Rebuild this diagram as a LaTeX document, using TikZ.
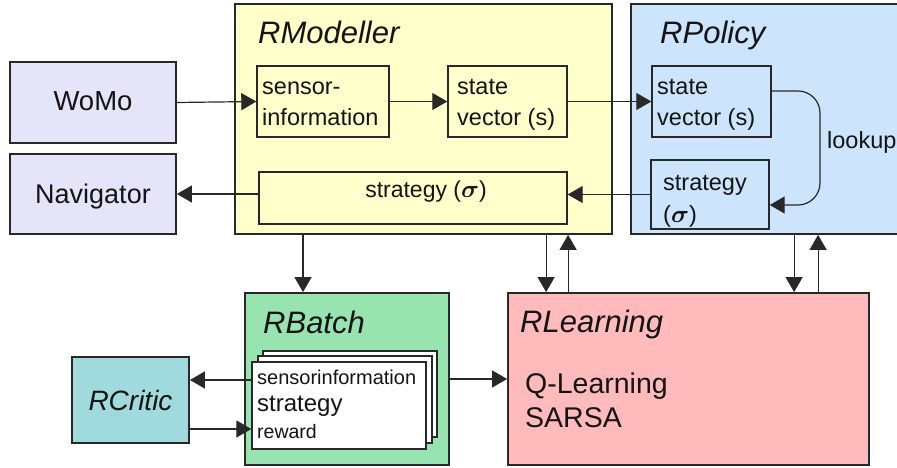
\documentclass[tikz,border=0pt]{standalone}
\usepackage{fontspec}
\setmainfont{Liberation Sans}
\usepackage{bm}
\usetikzlibrary{arrows.meta}

\definecolor{envfill}{RGB}{229,229,250}
\definecolor{modfill}{RGB}{255,255,204}
\definecolor{polfill}{RGB}{204,228,252}
\definecolor{batfill}{RGB}{152,228,176}
\definecolor{crifill}{RGB}{160,218,220}
\definecolor{leafill}{RGB}{255,187,187}
\definecolor{edge}{RGB}{40,40,40}
\definecolor{ink}{RGB}{20,20,20}

\newcommand\setfs[1]{\fontsize{#1}{#1}\selectfont}

\tikzset{
  outerbox/.style={draw=edge, line width=1.8pt, inner sep=0pt},
  innerbox/.style={draw=edge, line width=1.4pt, inner sep=0pt},
  sheet/.style={draw=edge, line width=1.3pt, fill=white, inner sep=0pt,
                minimum width=174pt, minimum height=87pt},
  lbl/.style={inner sep=0pt, text=ink, anchor=base west},
  title/.style={lbl, font=\setfs{31}\itshape},
  arr/.style={draw=edge, line width=1.2pt, -{Triangle[length=15pt,width=17pt]}}
}

\begin{document}
\begin{tikzpicture}[x=1pt, y=-1pt]
\useasboundingbox (0,0) rectangle (897,468);
\clip (0,0) rectangle (897,468);

% environment boxes
\node[outerbox, fill=envfill, minimum width=166pt, minimum height=81pt] (womo) at (93,102.5) {};
\node[outerbox, fill=envfill, minimum width=166pt, minimum height=80pt] (nav) at (93,194) {};
\node[inner sep=0pt, text=ink, anchor=base, font=\setfs{27.5}] (womot) at (93,111) {WoMo};
\node[inner sep=0pt, text=ink, anchor=base, font=\setfs{27}] (navt) at (93,203) {Navigator};

% RModeller
\node[outerbox, fill=modfill, minimum width=377pt, minimum height=230pt] (rmod) at (423.5,119) {};
\node[title] (rmodt) at (258,44) {RModeller};
\node[innerbox, minimum width=132pt, minimum height=71pt] (sens) at (323,101.5) {};
\node[innerbox, minimum width=119pt, minimum height=71pt] (sv1) at (507.5,101.5) {};
\node[innerbox, minimum width=308pt, minimum height=52pt] (st1) at (413,198) {};
\node[lbl, font=\setfs{23.5}] (senst1) at (262,95) {sensor-};
\node[lbl, font=\setfs{23.5}] (senst2) at (262,126) {information};
\node[lbl, font=\setfs{23.5}] (sv1t1) at (457,95) {state};
\node[lbl, font=\setfs{23.5}] (sv1t2) at (457,126) {vector (s)};
\node[inner sep=0pt, text=ink, anchor=base, font=\setfs{23}] (st1t) at (426,197) {strategy ($\bm{\sigma}$)};

% RPolicy
\node[outerbox, fill=polfill, minimum width=276pt, minimum height=230pt] (rpol) at (769,119) {};
\node[title] (rpolt) at (660,44) {RPolicy};
\node[innerbox, minimum width=119pt, minimum height=71pt] (sv2) at (711.5,101.5) {};
\node[innerbox, minimum width=118pt, minimum height=69pt] (st2) at (710,194.5) {};
\node[lbl, font=\setfs{23.5}] (sv2t1) at (657,95) {state};
\node[lbl, font=\setfs{23.5}] (sv2t2) at (657,126) {vector (s)};
\node[lbl, font=\setfs{23.5}] (st2t1) at (663,190) {strategy};
\node[lbl, font=\setfs{23.5}] (st2t2) at (663,222) {($\bm{\sigma}$)};
\node[lbl, font=\setfs{23.5}] (lookt) at (827,149) {lookup};

% RBatch with its stack of records
\node[outerbox, fill=batfill, minimum width=204pt, minimum height=172pt] (rbatch) at (347,379) {};
\node[title] (rbatt) at (263,333) {RBatch};
\node[sheet, minimum height=86pt] (back) at (350,394) {};
\node[sheet] (mid) at (345,399.5) {};
\node[sheet] (front) at (339,405.5) {};
\node[lbl, font=\setfs{20}] (rec1) at (257,384) {sensorinformation};
\node[lbl, font=\setfs{24}] (rec2) at (257,411) {strategy};
\node[lbl, font=\setfs{19.5}] (rec3) at (257,438) {reward};

% RCritic
\node[outerbox, fill=crifill, minimum width=117pt, minimum height=86pt] (rcrit) at (130.5,400) {};
\node[inner sep=0pt, text=ink, anchor=base, font=\setfs{28}\itshape] (rcritt) at (130.5,410) {RCritic};

% RLearning
\node[outerbox, fill=leafill, minimum width=361pt, minimum height=172pt] (rlearn) at (688.5,379) {};
\node[title] (rleat) at (520,332) {RLearning};
\node[lbl, font=\setfs{28.5}] (qlt) at (525,393) {Q-Learning};
\node[lbl, font=\setfs{28.5}] (sat) at (525,427) {SARSA};

% connector end points
\coordinate (dA) at ([xshift=-44pt]rbatch.north);
\coordinate (dB) at ([xshift=39pt]rlearn.north west);
\coordinate (uB) at ([xshift=61pt]rlearn.north west);
\coordinate (dC) at ([xshift=287pt]rlearn.north west);
\coordinate (uC) at ([xshift=311pt]rlearn.north west);
\coordinate (cr1) at ([yshift=20pt]rcrit.east);
\coordinate (cr2) at ([yshift=-29pt]rcrit.east);
\coordinate (lk) at (820,148);

% connectors
\draw[arr] (womo.east) -- (sens.west);
\draw[arr] (sens.east) -- (sv1.west);
\draw[arr] (sv1.east) -- (sv2.west);
\draw[arr] (st2.west) -- (st1.east |- st2.west);
\draw[arr] (st1.west |- nav.east) -- (nav.east);
\draw[arr, rounded corners=22pt] ([yshift=10.5pt]sv2.east) -| (lk) |- ([yshift=-10.5pt]st2.east);
\draw[arr] (rmod.south -| dA) -- (dA);
\draw[arr] (rmod.south -| dB) -- (dB);
\draw[arr] (uB) -- (rmod.south -| uB);
\draw[arr] (rpol.south -| dC) -- (dC);
\draw[arr] (uC) -- (rpol.south -| uC);
\draw[arr] (rbatch.east) -- (rlearn.west);
\draw[arr] (front.west |- cr1) -- (cr1);
\draw[arr] (cr2) -- (front.west |- cr2);
\end{tikzpicture}
\end{document}
